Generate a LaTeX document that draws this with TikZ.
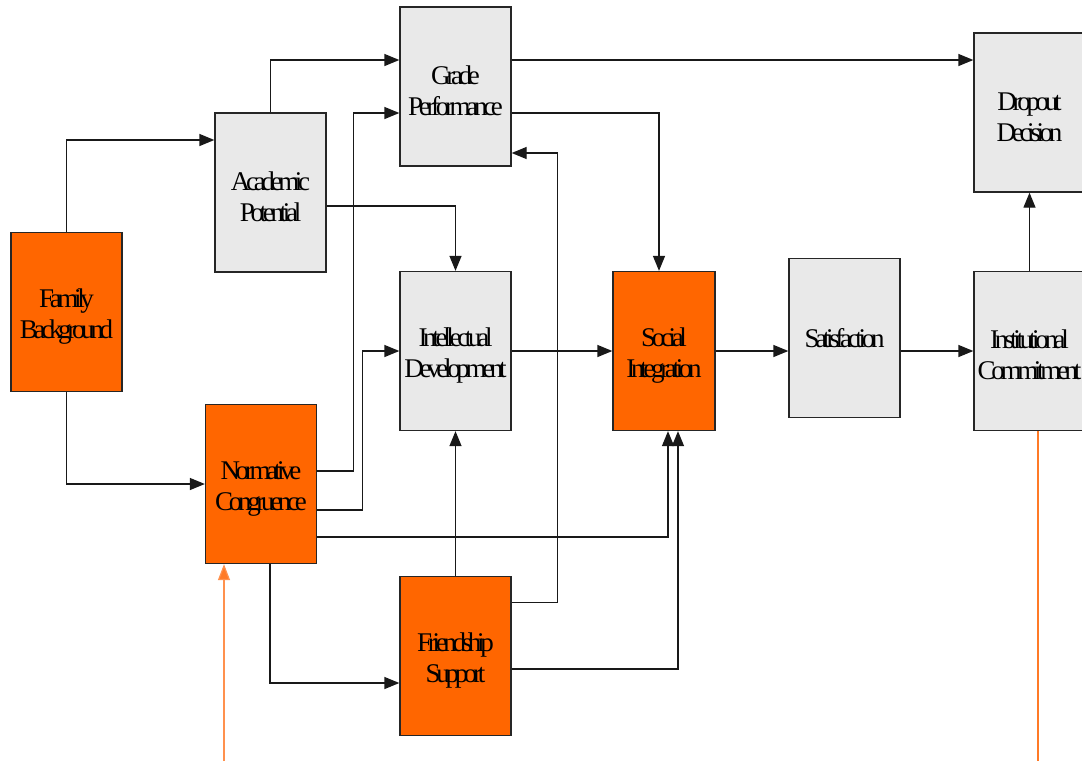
\documentclass[tikz,border=0pt]{standalone}
\usepackage{fontspec}
\setmainfont{Liberation Serif}[LetterSpace=-16]
\usetikzlibrary{arrows.meta,calc}
\definecolor{boxorange}{HTML}{FF6600}
\definecolor{boxgray}{HTML}{E9E9E9}
\definecolor{lineorange}{HTML}{FF7A26}
\definecolor{lightorange}{HTML}{FF914D}
\newcommand{\tp}{\rule{0pt}{27pt}}
\tikzset{
  box/.style={draw=black!85, line width=1.3pt, minimum width=111pt, minimum height=159pt,
    inner sep=0pt, align=center, font=\fontsize{27}{31}\selectfont},
  graybox/.style={box, fill=boxgray},
  orangebox/.style={box, fill=boxorange},
  arr/.style={line width=1.3pt, draw=black!90, -{Triangle[length=15pt,width=12pt]}},
  oarr/.style={line width=1.2pt, draw=lightorange, -{Triangle[length=16pt,width=12pt,fill=lineorange]}},
  oline/.style={line width=1.2pt, draw=lineorange},
}
\begin{document}
\begin{tikzpicture}[x=1pt,y=-1pt]
\path[use as bounding box, clip] (0,0) rectangle (1082,761);
\node[orangebox] (FB) at (66.5,312) {\tp Family\\Background};
\node[graybox] (AP) at (270.5,192.5) {\tp Academic\\Potential};
\node[graybox] (GP) at (455.5,86.5) {\tp Grade\\Performance};
\node[graybox] (DD) at (1029.5,112.5) {\tp Dropout\\Decision};
\node[graybox] (ID) at (455.5,351) {\tp Intellectual\\Development};
\node[orangebox, minimum width=102pt] (SI) at (664,351) {\tp Social\\Integration};
\node[graybox] (Sat) at (844.5,338) {Satisfaction};
\node[graybox] (IC) at (1029.5,351) {\tp Institutional\\Commitment};
\node[orangebox] (NC) at (261,484) {\tp Normative\\Congruence};
\node[orangebox] (FS) at (455.5,656) {\tp Friendship\\Support};
\coordinate (o1) at (224,761);
\coordinate (o2) at (1038,761);
% connectors
\draw[arr] (FB.north) |- ([yshift=52.5]AP.west);
\draw[arr] (FB.south) |- (NC.west);
\draw[arr] (AP.north) |- ([yshift=26.5]GP.west);
\draw[arr] ([yshift=26.5]GP.east) -- ([yshift=26.5]GP.east -| DD.west);
\draw[arr] ([yshift=-26.5]GP.east) -| ([xshift=-5]SI.north);
\draw[arr] ([yshift=-13.5]AP.east) -| (ID.north);
\draw[arr] ([yshift=13]NC.east) -- ++(36.5,0) |- ([yshift=-26.5]GP.west);
\draw[arr] ([yshift=-26]NC.east) -- ++(45.5,0) |- (ID.west);
\draw[arr] ([yshift=-53]NC.east) -| ([xshift=4]SI.south);
\draw[arr] ([xshift=9]NC.south) |- ([yshift=-27]FS.west);
\draw[arr] (FS.north) -- (ID.south);
\draw[arr] ([yshift=53.5]FS.east) -- ++(46,0) |- ([yshift=-66.5]GP.east);
\draw[arr] ([yshift=-13]FS.east) -| ([xshift=14]SI.south);
\draw[arr] (ID.east) -- (SI.west);
\draw[arr] (SI.east) -- (SI.east -| Sat.west);
\draw[arr] (SI.east -| Sat.east) -- (IC.west);
\draw[arr] (IC.north) -- (DD.south);
\draw[oarr] (o1) -- (o1 |- NC.south);
\draw[oline] (o2 |- IC.south) -- (o2);
\end{tikzpicture}
\end{document}
